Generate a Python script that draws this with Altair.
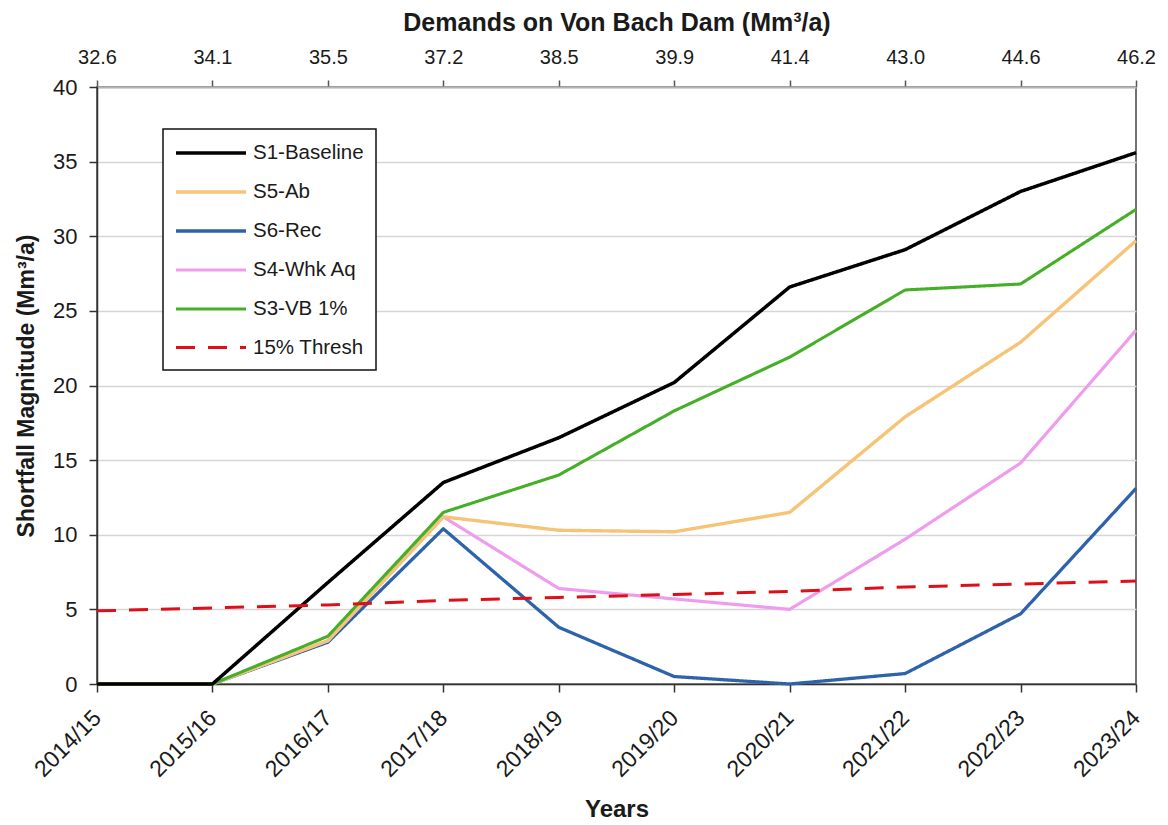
import altair as alt
import pandas as pd

# Water years (bottom axis) and matching demands on the dam (top axis)
years = ["2014/15", "2015/16", "2016/17", "2017/18", "2018/19",
         "2019/20", "2020/21", "2021/22", "2022/23", "2023/24"]
demands = ["32.6", "34.1", "35.5", "37.2", "38.5",
           "39.9", "41.4", "43.0", "44.6", "46.2"]

# Shortfall magnitude per scenario (Mm³/a)
s1_baseline = [0, 0, 6.8, 13.5, 16.5, 20.2, 26.6, 29.1, 33.0, 35.6]
s5_ab = [0, 0, 2.9, 11.2, 10.3, 10.2, 11.5, 17.9, 22.9, 29.7]
s6_rec = [0, 0, 2.8, 10.4, 3.8, 0.5, 0.0, 0.7, 4.7, 13.1]
s4_whk_aq = [0, 0, 2.9, 11.2, 6.4, 5.7, 5.0, 9.7, 14.8, 23.7]
s3_vb = [0, 0, 3.2, 11.5, 14.0, 18.3, 21.9, 26.4, 26.8, 31.8]
thresh_15 = [4.9, 5.1, 5.3, 5.6, 5.8, 6.0, 6.2, 6.5, 6.7, 6.9]

names = ["S1-Baseline", "S5-Ab", "S6-Rec", "S4-Whk Aq", "S3-VB 1%", "15% Thresh"]
colors = ["#000000", "#F6C477", "#2E63AC", "#F09CEE", "#44AF27", "#DF0F1A"]
dashes = [[1, 0], [1, 0], [1, 0], [1, 0], [1, 0], [19, 13]]
widths = [3.5, 3, 3, 2.5, 3, 5]

series = {
    "S1-Baseline": s1_baseline,
    "S5-Ab": s5_ab,
    "S6-Rec": s6_rec,
    "S4-Whk Aq": s4_whk_aq,
    "S3-VB 1%": s3_vb,
    "15% Thresh": thresh_15,
}
# drawing order: later series are painted on top
draw_order = ["S6-Rec", "S4-Whk Aq", "S5-Ab", "S3-VB 1%", "S1-Baseline", "15% Thresh"]

rows = []
for name in draw_order:
    for yr, dm, v in zip(years, demands, series[name]):
        rows.append({"Year": yr, "Demand": dm, "Scenario": name, "Value": v})
df = pd.DataFrame(rows)

top_df = pd.DataFrame({"Demand": demands, "Value": thresh_15})

FONT = "Liberation Sans"
INK = "#1a1a1a"

y_enc = alt.Y(
    "Value:Q",
    scale=alt.Scale(domain=[0, 40], nice=False),
    axis=alt.Axis(
        title="Shortfall Magnitude (Mm³/a)",
        values=[0, 5, 10, 15, 20, 25, 30, 35, 40],
        grid=True, gridColor="#d6d6d6", gridWidth=1.5,
        domainColor="#333333", domainWidth=1.5,
        tickColor="#333333", tickWidth=1.5, tickSize=8,
        labelFontSize=22, labelColor=INK, labelPadding=12,
        titleFontSize=23, titleFontWeight="bold", titleColor=INK, titlePadding=14,
    ),
)

lines = alt.Chart(df).mark_line(strokeCap="butt", strokeJoin="round").encode(
    x=alt.X(
        "Year:O",
        scale=alt.Scale(type="point", padding=0),
        axis=alt.Axis(
            orient="bottom", title="Years",
            labelAngle=-45, labelAlign="right", labelBaseline="middle",
            labelFontSize=23, labelColor=INK, labelPadding=22,
            domainColor="#333333", domainWidth=1.5,
            tickColor="#333333", tickWidth=1.5, tickSize=8,
            titleFontSize=24, titleFontWeight="bold", titleColor=INK, titlePadding=16,
        ),
    ),
    y=y_enc,
    color=alt.Color("Scenario:N", scale=alt.Scale(domain=names, range=colors), title=None),
    strokeDash=alt.StrokeDash("Scenario:N", scale=alt.Scale(domain=names, range=dashes), title=None),
    strokeWidth=alt.StrokeWidth("Scenario:N", scale=alt.Scale(domain=names, range=widths), title=None),
)

top_axis = alt.Chart(top_df).mark_point(opacity=0).encode(
    x=alt.X(
        "Demand:O",
        scale=alt.Scale(type="point", padding=0),
        axis=alt.Axis(
            orient="top", title="Demands on Von Bach Dam (Mm³/a)",
            labelAngle=0, labelFontSize=20, labelColor=INK, labelPadding=13,
            domainColor="#b5b5b5", domainWidth=2,
            tickColor="#555555", tickWidth=1.5, tickSize=7,
            titleFontSize=25, titleFontWeight="bold", titleColor=INK, titlePadding=12,
        ),
    ),
    y=alt.Y("Value:Q", scale=alt.Scale(domain=[0, 40], nice=False)),
)

chart = (
    alt.layer(lines, top_axis)
    .resolve_scale(x="independent")
    .properties(
        width=1039, height=597,
        padding={"left": 97, "top": 87, "right": 32, "bottom": 141},
        autosize=alt.AutoSizeParams(type="none"),
        background="white",
    )
    .configure(font=FONT)
    .configure_view(stroke="#444444", strokeWidth=1.5)
    .configure_legend(
        orient="none", legendX=66, legendY=42,
        fillColor="white", strokeColor="#111111", strokeWidth=1.5,
        padding=12, rowPadding=16,
        symbolType="M-3.5,0H3.5", symbolSize=400,
        symbolOffset=24, labelOffset=30,
        labelFontSize=20.5, labelColor=INK, labelLimit=300,
    )
)

chart.save("out.html", embed_options={"renderer": "svg", "actions": False})
